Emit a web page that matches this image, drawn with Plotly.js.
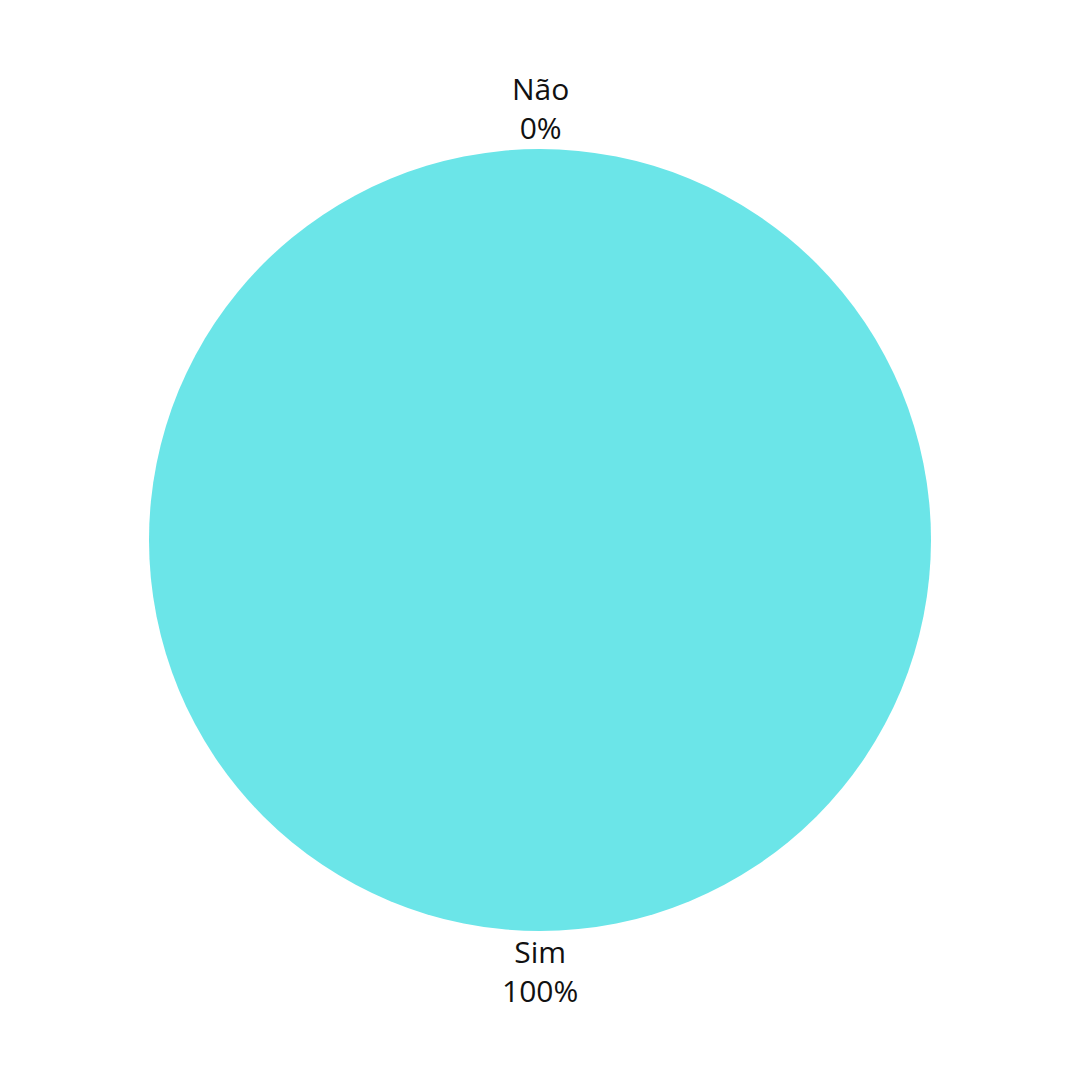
<!DOCTYPE html>
<html><head><meta charset="utf-8">
<script src="https://cdn.plot.ly/plotly-3.0.1.min.js"></script>
<style>html,body{margin:0;padding:0;background:#fff}</style>
</head><body>
<div id="chart" style="width:1080px;height:1080px"></div>
<script>
const labels = ["Sim", "Não"];
const values = [100, 0];
const colors = ["#6be5e8", "#6be5e8"];
const total = values.reduce((a, b) => a + b, 0);
const pctText = values.map(v => Math.round(100 * v / total) + "%");
// label positions: largest slice centred at the bottom, zero slice at the top
const annY = [0, 1];
const annAnchor = ["top", "bottom"];
const annShift = [2, -1];
Plotly.newPlot("chart", [{
  type: "pie",
  labels: labels,
  values: values,
  marker: {colors: colors},
  textinfo: "none",
  sort: false,
  direction: "counterclockwise",
  rotation: 0,
  showlegend: false,
  hoverinfo: "label+percent",
  automargin: false
}], {
  width: 1080, height: 1080,
  margin: {l: 149, r: 149, t: 149, b: 149},
  paper_bgcolor: "#fff",
  showlegend: false,
  annotations: labels.map((l, i) => ({
    xref: "paper", yref: "paper", x: 0.5, y: annY[i],
    xanchor: "center", yanchor: annAnchor[i], yshift: annShift[i],
    text: l + "<br>" + pctText[i], showarrow: false, align: "center",
    font: {family: "Open Sans", size: 30, color: "#111"}
  }))
}, {displayModeBar: false});
</script>
</body></html>
